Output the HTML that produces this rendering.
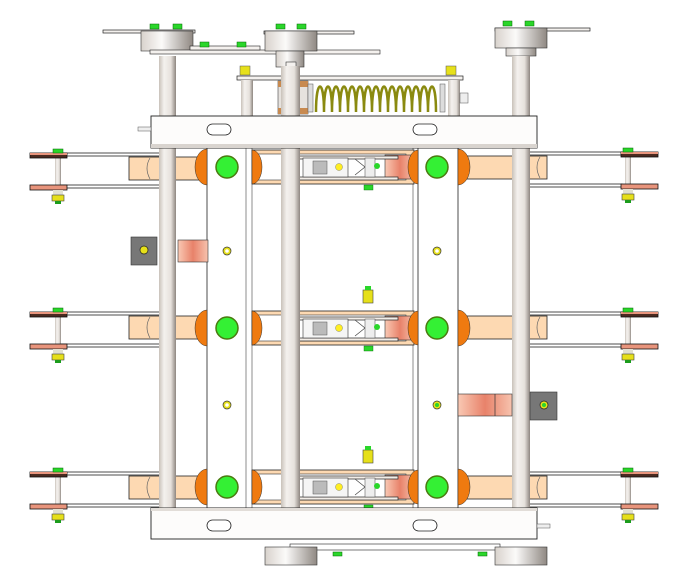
<!DOCTYPE html>
<html><head><meta charset="utf-8"><style>html,body{margin:0;padding:0;background:#fff}svg{display:block}</style></head>
<body>
<svg width="700" height="585" viewBox="0 0 700 585" xmlns="http://www.w3.org/2000/svg" xmlns:xlink="http://www.w3.org/1999/xlink">
<defs>
<linearGradient id="rod" x1="0" x2="1"><stop offset="0" stop-color="#c9c2ba"/><stop offset=".3" stop-color="#f4f1ee"/><stop offset=".7" stop-color="#e6e1dc"/><stop offset="1" stop-color="#8e8680"/></linearGradient>
<linearGradient id="hub" x1="0" x2="1"><stop offset="0" stop-color="#d8d2cc"/><stop offset=".4" stop-color="#fbfaf9"/><stop offset="1" stop-color="#8f8882"/></linearGradient>
<linearGradient id="cu" x1="0" x2="1"><stop offset="0" stop-color="#f9c9b4"/><stop offset=".5" stop-color="#e8826a"/><stop offset="1" stop-color="#f7c3ae"/></linearGradient>
<g id="termL">
 <rect x="58" y="-4" width="110" height="3" fill="#fff" stroke="#222" stroke-width=".8"/>
 <rect x="58" y="28" width="110" height="3" fill="#fff" stroke="#222" stroke-width=".8"/>
 <rect x="55" y="-1" width="6" height="30" fill="url(#rod)"/>
 <rect x="30" y="-4" width="37" height="5" fill="#4a2a20" stroke="#111" stroke-width=".8"/>
 <rect x="30" y="-4" width="37" height="2" fill="#e8947c"/>
 <rect x="30" y="28" width="37" height="5" fill="#e8947c" stroke="#111" stroke-width=".8"/>
 <rect x="53" y="-8" width="10" height="4" fill="#2ad62a" stroke="#060" stroke-width=".5"/>
 <rect x="53" y="33" width="10" height="6" fill="#e0e0d0"/>
 <rect x="52" y="38" width="12" height="6" fill="#e6e01a" stroke="#444" stroke-width=".6"/>
 <rect x="55" y="44" width="6" height="3" fill="#1c9c1c"/>
 <rect x="129" y="0" width="70" height="23" fill="#fdd9b2" stroke="#222" stroke-width=".8"/>
 <path d="M150 1 q-6 10 0 21" fill="none" stroke="#666" stroke-width=".7"/>
</g>
<g id="termR">
 <rect x="520" y="-4" width="102" height="3" fill="#fff" stroke="#222" stroke-width=".8"/>
 <rect x="520" y="28" width="102" height="3" fill="#fff" stroke="#222" stroke-width=".8"/>
 <rect x="625" y="-1" width="6" height="30" fill="url(#rod)"/>
 <rect x="621" y="-4" width="37" height="5" fill="#4a2a20" stroke="#111" stroke-width=".8"/>
 <rect x="621" y="-4" width="37" height="2" fill="#e8947c"/>
 <rect x="621" y="28" width="37" height="5" fill="#e8947c" stroke="#111" stroke-width=".8"/>
 <rect x="623" y="-8" width="10" height="4" fill="#2ad62a" stroke="#060" stroke-width=".5"/>
 <rect x="623" y="33" width="10" height="6" fill="#e0e0d0"/>
 <rect x="622" y="38" width="12" height="6" fill="#e6e01a" stroke="#444" stroke-width=".6"/>
 <rect x="625" y="44" width="6" height="3" fill="#1c9c1c"/>
 <rect x="467" y="0" width="80" height="23" fill="#fdd9b2" stroke="#222" stroke-width=".8"/>
 <path d="M540 1 q-6 10 0 21" fill="none" stroke="#666" stroke-width=".7"/>
</g>
<g id="mech">
 <rect x="252" y="-17" width="162" height="34" fill="#fdd9b2" stroke="#222" stroke-width=".8"/>
 <rect x="256" y="-13" width="150" height="26" fill="#fff" stroke="#333" stroke-width=".6"/>
 <rect x="385" y="-12" width="30" height="24" fill="url(#cu)" stroke="#333" stroke-width=".6"/>
 <rect x="290" y="-11" width="108" height="3" fill="#f3eee8" stroke="#222" stroke-width=".7"/>
 <rect x="290" y="10" width="108" height="3" fill="#f3eee8" stroke="#222" stroke-width=".7"/>
 <rect x="303" y="-9" width="45" height="19" fill="#f5f5f5" stroke="#333" stroke-width=".6"/>
 <rect x="313" y="-6" width="14" height="13" fill="#bbb" stroke="#555" stroke-width=".5"/>
 <circle cx="339" cy="0" r="3.5" fill="#ffee22" stroke="#886" stroke-width=".5"/>
 <path d="M355 -8 l10 8 l-10 8" fill="none" stroke="#444" stroke-width=".7"/>
 <rect x="365" y="-9" width="10" height="19" fill="#eee" stroke="#444" stroke-width=".5"/>
 <circle cx="377" cy="-1" r="3" fill="#2ad62a"/>
 <rect x="364" y="18" width="9" height="5" fill="#2ad62a" stroke="#060" stroke-width=".4"/>
 <path d="M252 -17 a10 17 0 0 1 0 34 z" fill="#ef7a10" stroke="#333" stroke-width=".5"/>
 <path d="M418 -17 a10 17 0 0 0 0 34 z" fill="#ef7a10" stroke="#333" stroke-width=".5"/>
</g>
<g id="plateRow">
 <path d="M207 -18 a12 18 0 0 0 0 36 z" fill="#ef7a10" stroke="#333" stroke-width=".5"/>
 <path d="M458 -18 a12 18 0 0 1 0 36 z" fill="#ef7a10" stroke="#333" stroke-width=".5"/>
 <circle cx="227" cy="0" r="11" fill="#34f034" stroke="#4a7a10" stroke-width="1.5"/>
 <circle cx="437" cy="0" r="11" fill="#34f034" stroke="#4a7a10" stroke-width="1.5"/>
</g>
</defs>

<!-- top assembly -->
<rect x="103" y="30" width="92" height="3" fill="#f4f1ee" stroke="#222" stroke-width=".7"/>
<rect x="141" y="31" width="52" height="20" fill="url(#hub)" stroke="#333" stroke-width=".6"/>
<rect x="150" y="50" width="230" height="4" fill="#f4f1ee" stroke="#222" stroke-width=".6"/>
<rect x="190" y="46" width="70" height="4" fill="#f4f1ee" stroke="#222" stroke-width=".6"/>
<rect x="264" y="31" width="90" height="3" fill="#f4f1ee" stroke="#222" stroke-width=".7"/>
<rect x="265" y="31" width="52" height="20" fill="url(#hub)" stroke="#333" stroke-width=".6"/>
<rect x="276" y="51" width="28" height="16" fill="url(#hub)" stroke="#333" stroke-width=".6"/>
<rect x="495" y="28" width="95" height="3" fill="#f4f1ee" stroke="#222" stroke-width=".7"/>
<rect x="495" y="28" width="52" height="20" fill="url(#hub)" stroke="#333" stroke-width=".6"/>
<rect x="506" y="48" width="30" height="8" fill="url(#hub)" stroke="#333" stroke-width=".6"/>
<g fill="#2ad62a" stroke="#060" stroke-width=".5">
<rect x="150" y="24" width="9" height="5"/><rect x="173" y="24" width="9" height="5"/>
<rect x="200" y="42" width="9" height="5"/><rect x="237" y="42" width="9" height="5"/>
<rect x="276" y="24" width="9" height="5"/><rect x="297" y="24" width="9" height="5"/>
<rect x="503" y="21" width="9" height="5"/><rect x="525" y="21" width="9" height="5"/>
</g>
<rect x="237" y="76" width="226" height="4" fill="#f4f1ee" stroke="#222" stroke-width=".7"/>
<rect x="240" y="66" width="10" height="9" fill="#e6e01a" stroke="#555" stroke-width=".5"/>
<rect x="446" y="66" width="10" height="9" fill="#e6e01a" stroke="#555" stroke-width=".5"/>
<rect x="241" y="80" width="12" height="36" fill="url(#rod)"/>
<rect x="448" y="80" width="12" height="36" fill="url(#rod)"/>
<rect x="460" y="93" width="8" height="10" fill="#eee" stroke="#555" stroke-width=".5"/>
<rect x="278" y="81" width="30" height="33" fill="#e6e2de" stroke="#444" stroke-width=".6"/>
<rect x="278" y="81" width="30" height="6" fill="#c88a50"/><rect x="278" y="108" width="30" height="6" fill="#c88a50"/>
<rect x="286" y="62" width="10" height="16" fill="#f4f1ee" stroke="#333" stroke-width=".6"/>
<g fill="none" stroke="#8a8a10" stroke-width="2.5">
<path d="M316 112 C316 78 324 78 324 112 C324 78 332 78 332 112 C332 78 340 78 340 112 C340 78 348 78 348 112 C348 78 356 78 356 112 C356 78 364 78 364 112 C364 78 372 78 372 112 C372 78 380 78 380 112 C380 78 388 78 388 112 C388 78 396 78 396 112 C396 78 404 78 404 112 C404 78 412 78 412 112 C412 78 420 78 420 112 C420 78 428 78 428 112 C428 78 436 78 436 112"/>
</g>
<rect x="308" y="84" width="5" height="28" fill="#ddd" stroke="#555" stroke-width=".5"/>
<rect x="440" y="84" width="5" height="28" fill="#ddd" stroke="#555" stroke-width=".5"/>

<!-- terminals (behind) -->
<use xlink:href="#termL" y="157"/><use xlink:href="#termL" y="316"/><use xlink:href="#termL" y="476"/>
<use xlink:href="#termR" y="156"/><use xlink:href="#termR" y="316"/><use xlink:href="#termR" y="476"/>

<!-- vertical plates -->
<rect x="207" y="148" width="40" height="360" fill="#fff" stroke="#222" stroke-width=".8"/>
<rect x="246" y="148" width="6" height="360" fill="#fff" stroke="#444" stroke-width=".6"/>
<rect x="413" y="148" width="6" height="360" fill="#fff" stroke="#444" stroke-width=".6"/>
<rect x="418" y="148" width="40" height="360" fill="#fff" stroke="#222" stroke-width=".8"/>

<use xlink:href="#mech" y="167"/><use xlink:href="#mech" y="328"/><use xlink:href="#mech" y="487"/>
<use xlink:href="#plateRow" y="167"/><use xlink:href="#plateRow" y="328"/><use xlink:href="#plateRow" y="487"/>
<g fill="#e6e01a" stroke="#444" stroke-width=".6">
<rect x="363" y="290" width="10" height="13"/><rect x="363" y="450" width="10" height="13"/>
</g>
<g fill="#2ad62a"><rect x="365" y="286" width="6" height="4"/><rect x="365" y="446" width="6" height="4"/></g>

<!-- rods -->
<rect x="159" y="56" width="17" height="452" fill="url(#rod)"/>
<rect x="281" y="66" width="19" height="442" fill="url(#rod)"/>
<rect x="512" y="56" width="18" height="452" fill="url(#rod)"/>

<!-- nuts -->
<g fill="#e6e01a" stroke="#333" stroke-width=".7">
<circle cx="227" cy="251" r="4"/><circle cx="437" cy="251" r="4"/><circle cx="227" cy="405" r="4"/><circle cx="437" cy="405" r="4"/>
</g>
<g fill="#2ad62a"><circle cx="437" cy="405" r="2"/></g>
<circle cx="227" cy="251" r="1.8" fill="#fff"/><circle cx="227" cy="405" r="1.8" fill="#fff"/><circle cx="437" cy="251" r="1.8" fill="#fff"/>

<!-- brackets -->
<rect x="178" y="240" width="30" height="22" fill="url(#cu)" stroke="#333" stroke-width=".6"/>
<rect x="131" y="237" width="26" height="28" fill="#777" stroke="#333" stroke-width=".6"/>
<circle cx="144" cy="250" r="4" fill="#e6e01a" stroke="#222" stroke-width=".7"/>
<rect x="458" y="394" width="54" height="22" fill="url(#cu)" stroke="#333" stroke-width=".6"/>
<line x1="495" y1="394" x2="495" y2="416" stroke="#333" stroke-width=".7"/>
<rect x="530" y="392" width="27" height="28" fill="#777" stroke="#333" stroke-width=".6"/>
<circle cx="544" cy="405" r="4" fill="#e6e01a" stroke="#222" stroke-width=".7"/><circle cx="544" cy="405" r="2" fill="#2ad62a"/>

<!-- beams -->
<rect x="151" y="116" width="386" height="32" fill="#fdfcfb" stroke="#222" stroke-width=".9"/>
<rect x="151" y="144" width="386" height="4" fill="#d9d4cf"/>
<rect x="138" y="127" width="13" height="4" fill="#eee" stroke="#555" stroke-width=".5"/>
<rect x="207" y="124" width="24" height="11" rx="5.5" fill="#fff" stroke="#222" stroke-width=".8"/>
<rect x="413" y="124" width="24" height="11" rx="5.5" fill="#fff" stroke="#222" stroke-width=".8"/>
<rect x="151" y="508" width="386" height="31" fill="#fdfcfb" stroke="#222" stroke-width=".9"/>
<rect x="151" y="508" width="386" height="3" fill="#e2ddd8"/>
<rect x="537" y="524" width="13" height="4" fill="#eee" stroke="#555" stroke-width=".5"/>
<rect x="207" y="520" width="24" height="11" rx="5.5" fill="#fff" stroke="#222" stroke-width=".8"/>
<rect x="413" y="520" width="24" height="11" rx="5.5" fill="#fff" stroke="#222" stroke-width=".8"/>

<!-- bottom assembly -->
<rect x="290" y="544" width="210" height="6" fill="#fff" stroke="#222" stroke-width=".6"/>
<rect x="265" y="547" width="52" height="18" fill="url(#hub)" stroke="#333" stroke-width=".6"/>
<rect x="495" y="547" width="52" height="18" fill="url(#hub)" stroke="#333" stroke-width=".6"/>
<g fill="#2ad62a" stroke="#060" stroke-width=".5"><rect x="333" y="552" width="9" height="4"/><rect x="478" y="552" width="9" height="4"/></g>
</svg>
</body></html>
